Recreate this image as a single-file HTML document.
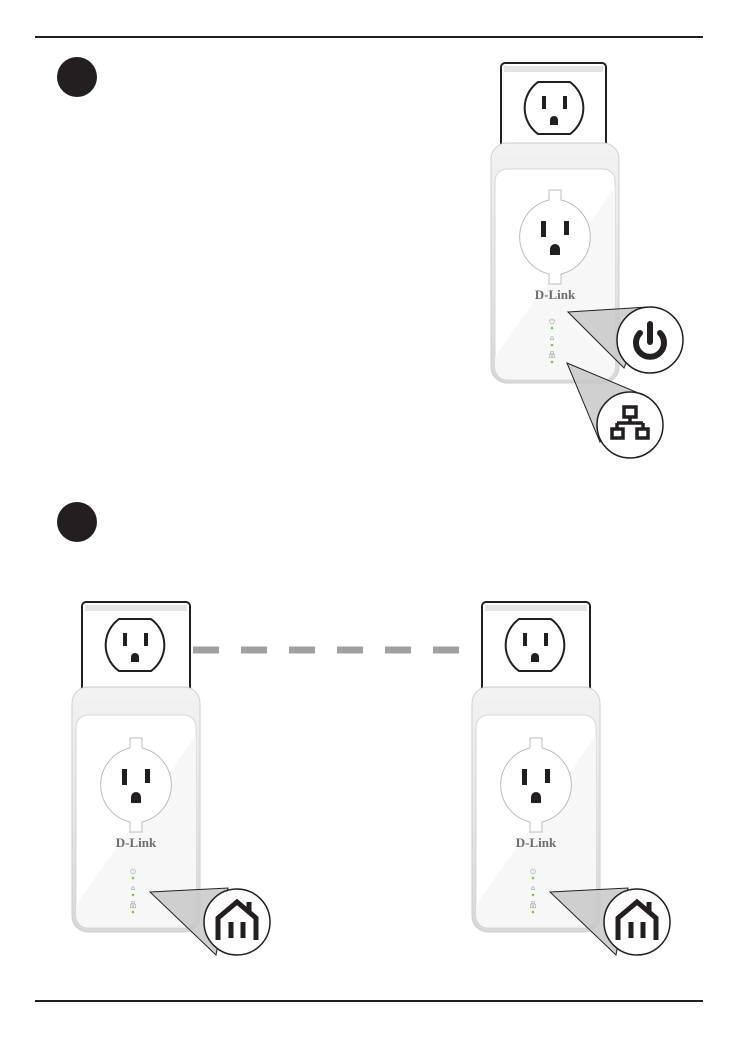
<!DOCTYPE html>
<html><head><meta charset="utf-8"><style>
html,body{margin:0;padding:0;background:#fff;}
svg{display:block;}
</style></head><body>
<svg width="738" height="1038" viewBox="0 0 738 1038" xmlns="http://www.w3.org/2000/svg">
<defs>
<linearGradient id="cap" x1="0" y1="0" x2="0" y2="1">
<stop offset="0" stop-color="#f2f2f2"/><stop offset="1" stop-color="#d8d8d8"/>
</linearGradient>
</defs>
<line x1="35" y1="37" x2="703" y2="37" stroke="#231f20" stroke-width="2"/>
<line x1="35" y1="1001" x2="703" y2="1001" stroke="#231f20" stroke-width="2"/>
<circle cx="77" cy="77" r="20" fill="#231f20"/>
<circle cx="77" cy="522" r="20" fill="#231f20"/>

<line x1="193" y1="650" x2="480" y2="650" stroke="#a0a0a0" stroke-width="7" stroke-dasharray="26 22"/>

<!-- DEVICE 1 -->
<g transform="translate(555,237)">
<rect x="-54" y="-174" width="105" height="100" rx="4" fill="#fff" stroke="#231f20" stroke-width="2"/>
<rect x="-51" y="-171" width="99" height="6" fill="#e4e4e4"/>
<path d="M-17,-155 H15 A32,32 0 0 1 15,-103 H-17 A32,32 0 0 1 -17,-155 Z" fill="#fff" stroke="#231f20" stroke-width="2"/>
<rect x="-13" y="-141" width="4" height="13" fill="#231f20"/><rect x="8" y="-141" width="4" height="13" fill="#231f20"/>
<path d="M-5,-112 v-5 a4,4 0 0 1 8,0 v5 z" fill="#231f20"/>
<rect x="-64" y="-94" width="128" height="240" rx="16" fill="url(#cap)" stroke="#cfcfcf"/>
<rect x="-60" y="-68" width="120" height="211" rx="12" fill="#fff" stroke="#d6d6d6"/>
<path d="M-60,120 L60,-50 V130 a12,12 0 0 1 -12,12 H-48 a12,12 0 0 1 -12,-12 Z" fill="#f7f7f7"/>
<path d="M-6,-47 h12 v10 A38,38 0 0 1 6,37 v10 h-12 v-10 A38,38 0 0 1 -6,-37 Z" fill="#fff" stroke="#bcbcbc"/>
<rect x="-14" y="-16" width="5" height="16" fill="#231f20"/><rect x="9" y="-16" width="5" height="14" fill="#231f20"/>
<path d="M-5,18 v-6 a5,5 0 0 1 10,0 v6 z" fill="#231f20"/>
<text x="0" y="62" text-anchor="middle" font-family="Liberation Serif,serif" font-weight="bold" font-size="13" fill="#6d6d6d">D-Link</text>
<text x="-3" y="87" text-anchor="middle" font-family="DejaVu Sans,sans-serif" font-size="7" fill="#999">⏻</text>
<text x="-3" y="103" text-anchor="middle" font-family="DejaVu Sans,sans-serif" font-size="7" fill="#999">⌂</text>
<text x="-3" y="120" text-anchor="middle" font-family="DejaVu Sans,sans-serif" font-size="7" fill="#999">品</text>
<circle cx="-3" cy="91" r="1.3" fill="#7ac943"/><circle cx="-3" cy="108" r="1.3" fill="#7ac943"/><circle cx="-3" cy="125" r="1.3" fill="#7ac943"/>
</g>

<!-- DEVICE 2 -->
<g transform="translate(136,785)">
<rect x="-54" y="-183" width="108" height="100" rx="4" fill="#fff" stroke="#231f20" stroke-width="2"/>
<rect x="-51" y="-180" width="102" height="6" fill="#e4e4e4"/>
<path d="M-17,-166 H15 A32,32 0 0 1 15,-114 H-17 A32,32 0 0 1 -17,-166 Z" fill="#fff" stroke="#231f20" stroke-width="2"/>
<rect x="-13" y="-152" width="4" height="13" fill="#231f20"/><rect x="8" y="-152" width="4" height="13" fill="#231f20"/>
<path d="M-5,-123 v-5 a4,4 0 0 1 8,0 v5 z" fill="#231f20"/>
<rect x="-64" y="-98" width="128" height="245" rx="16" fill="url(#cap)" stroke="#cfcfcf"/>
<rect x="-60" y="-70" width="120" height="213" rx="12" fill="#fff" stroke="#d6d6d6"/>
<path d="M-60,120 L60,-50 V130 a12,12 0 0 1 -12,12 H-48 a12,12 0 0 1 -12,-12 Z" fill="#f7f7f7"/>
<path d="M-6,-47 h12 v10 A38,38 0 0 1 6,37 v10 h-12 v-10 A38,38 0 0 1 -6,-37 Z" fill="#fff" stroke="#bcbcbc"/>
<rect x="-14" y="-16" width="5" height="16" fill="#231f20"/><rect x="9" y="-16" width="5" height="14" fill="#231f20"/>
<path d="M-5,18 v-6 a5,5 0 0 1 10,0 v6 z" fill="#231f20"/>
<text x="0" y="62" text-anchor="middle" font-family="Liberation Serif,serif" font-weight="bold" font-size="13" fill="#6d6d6d">D-Link</text>
<text x="-3" y="89" text-anchor="middle" font-family="DejaVu Sans,sans-serif" font-size="7" fill="#999">⏻</text>
<text x="-3" y="105" text-anchor="middle" font-family="DejaVu Sans,sans-serif" font-size="7" fill="#999">⌂</text>
<text x="-3" y="122" text-anchor="middle" font-family="DejaVu Sans,sans-serif" font-size="7" fill="#999">品</text>
<circle cx="-3" cy="93" r="1.3" fill="#7ac943"/><circle cx="-3" cy="110" r="1.3" fill="#7ac943"/><circle cx="-3" cy="127" r="1.3" fill="#7ac943"/>
</g>

<!-- DEVICE 3 -->
<g transform="translate(536,785)">
<rect x="-54" y="-183" width="108" height="100" rx="4" fill="#fff" stroke="#231f20" stroke-width="2"/>
<rect x="-51" y="-180" width="102" height="6" fill="#e4e4e4"/>
<path d="M-17,-166 H15 A32,32 0 0 1 15,-114 H-17 A32,32 0 0 1 -17,-166 Z" fill="#fff" stroke="#231f20" stroke-width="2"/>
<rect x="-13" y="-152" width="4" height="13" fill="#231f20"/><rect x="8" y="-152" width="4" height="13" fill="#231f20"/>
<path d="M-5,-123 v-5 a4,4 0 0 1 8,0 v5 z" fill="#231f20"/>
<rect x="-64" y="-98" width="128" height="245" rx="16" fill="url(#cap)" stroke="#cfcfcf"/>
<rect x="-60" y="-70" width="120" height="213" rx="12" fill="#fff" stroke="#d6d6d6"/>
<path d="M-60,120 L60,-50 V130 a12,12 0 0 1 -12,12 H-48 a12,12 0 0 1 -12,-12 Z" fill="#f7f7f7"/>
<path d="M-6,-47 h12 v10 A38,38 0 0 1 6,37 v10 h-12 v-10 A38,38 0 0 1 -6,-37 Z" fill="#fff" stroke="#bcbcbc"/>
<rect x="-14" y="-16" width="5" height="16" fill="#231f20"/><rect x="9" y="-16" width="5" height="14" fill="#231f20"/>
<path d="M-5,18 v-6 a5,5 0 0 1 10,0 v6 z" fill="#231f20"/>
<text x="0" y="62" text-anchor="middle" font-family="Liberation Serif,serif" font-weight="bold" font-size="13" fill="#6d6d6d">D-Link</text>
<text x="-3" y="89" text-anchor="middle" font-family="DejaVu Sans,sans-serif" font-size="7" fill="#999">⏻</text>
<text x="-3" y="105" text-anchor="middle" font-family="DejaVu Sans,sans-serif" font-size="7" fill="#999">⌂</text>
<text x="-3" y="122" text-anchor="middle" font-family="DejaVu Sans,sans-serif" font-size="7" fill="#999">品</text>
<circle cx="-3" cy="93" r="1.3" fill="#7ac943"/><circle cx="-3" cy="110" r="1.3" fill="#7ac943"/><circle cx="-3" cy="127" r="1.3" fill="#7ac943"/>
</g>

<!-- callouts device 1 -->
<polygon points="568,312 648,307 624,368" fill="#c8c8c8" fill-opacity="0.85" stroke="#231f20" stroke-width="1"/>
<circle cx="650" cy="340" r="33" fill="#fff" stroke="#231f20" stroke-width="1.5"/>
<path d="M640,333 A14,14 0 1 0 660,333" fill="none" stroke="#231f20" stroke-width="6" stroke-linecap="round"/>
<line x1="650" y1="324" x2="650" y2="342" stroke="#231f20" stroke-width="6" stroke-linecap="round"/>

<polygon points="567,363 636,392 600,442" fill="#c8c8c8" fill-opacity="0.85" stroke="#231f20" stroke-width="1"/>
<circle cx="630" cy="425" r="33" fill="#fff" stroke="#231f20" stroke-width="1.5"/>
<g fill="none" stroke="#231f20" stroke-width="3.5">
<rect x="624" y="407" width="12" height="10"/>
<path d="M630,417 v6 M617,423 h26 M617,423 v5 M643,423 v5"/>
<rect x="612" y="429" width="11" height="9"/><rect x="637" y="429" width="11" height="9"/>
</g>

<!-- callouts device 2 -->
<polygon points="150,892 228,888 216,955" fill="#c8c8c8" fill-opacity="0.85" stroke="#231f20" stroke-width="1"/>
<circle cx="237" cy="922" r="33" fill="#fff" stroke="#231f20" stroke-width="1.5"/>
<g stroke="#231f20" fill="none" stroke-width="5">
<path d="M218,940 V918 L237,902 L256,918 V940"/>
<path d="M249,912 V902"/>
<path d="M231,922 v16 M243,922 v16"/>
</g>

<!-- callouts device 3 -->
<polygon points="550,892 628,888 616,955" fill="#c8c8c8" fill-opacity="0.85" stroke="#231f20" stroke-width="1"/>
<circle cx="637" cy="922" r="33" fill="#fff" stroke="#231f20" stroke-width="1.5"/>
<g stroke="#231f20" fill="none" stroke-width="5">
<path d="M618,940 V918 L637,902 L656,918 V940"/>
<path d="M649,912 V902"/>
<path d="M631,922 v16 M643,922 v16"/>
</g>
</svg>
</body></html>
